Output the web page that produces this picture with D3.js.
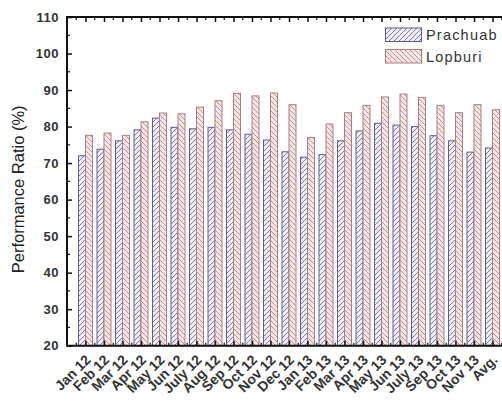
<!DOCTYPE html>
<html>
<head>
<meta charset="utf-8">
<script src="https://cdn.jsdelivr.net/npm/d3@7"></script>
<style>
  html, body { margin: 0; padding: 0; background: #fff; }
  svg { display: block; }
  text { font-family: "Liberation Sans", Arial, sans-serif; }
</style>
</head>
<body>
<svg id="chart" width="502" height="402"></svg>
<script>
const categories = ["Jan 12","Feb 12","Mar 12","Apr 12","May 12","Jun 12","July 12","Aug 12","Sep 12","Oct 12","Nov 12","Dec 12","Jan 13","Feb 13","Mar 13","Apr 13","May 13","Jun 13","July 13","Sep 13","Oct 13","Nov 13","Avg."];
const prachuab = [72.0,73.8,76.1,79.1,82.3,79.8,79.4,79.8,79.1,77.9,76.3,73.1,71.6,72.3,76.1,78.8,80.9,80.4,80.0,77.5,76.1,73.0,74.1];
const lopburi  = [77.6,78.2,77.6,81.3,83.7,83.5,85.3,87.1,89.1,88.4,89.2,86.0,77.0,80.7,83.8,85.8,88.1,88.9,88.0,85.8,83.8,86.0,84.6];
const seriesNames = ["Prachuab","Lopburi"];
const yTicks = [20,30,40,50,60,70,80,90,100,110];

const svg = d3.select("#chart");
const pLeft = 67, pTop = 17, pBottom = 345.7, pRight = 511;

// position scale: axis 0..24, categories at 1..23
const xLin = d3.scaleLinear().domain([0, categories.length + 1]).range([pLeft, pRight]);
const x = d3.scalePoint().domain(categories).range([xLin(1), xLin(categories.length)]);
const step = xLin(1) - xLin(0);
const sub = d3.scaleBand().domain(seriesNames).range([-step*0.378, step*0.378]).padding(0);
const y = d3.scaleLinear().domain([20, 110]).range([pBottom, pTop]);

// patterns
const defs = svg.append("defs");
function hatch(id, bg, stroke, dir) {
  const p = defs.append("pattern").attr("id", id).attr("patternUnits", "userSpaceOnUse")
    .attr("width", 5).attr("height", 5);
  p.append("rect").attr("width", 5).attr("height", 5).attr("fill", bg);
  const d = dir > 0 ? "M-1,1 l2,-2 M0,5 l5,-5 M4,6 l2,-2" : "M-1,4 l2,2 M0,0 l5,5 M4,-1 l2,2";
  p.append("path").attr("d", d).attr("stroke", stroke).attr("stroke-width", 0.75).attr("fill", "none");
}
hatch("hP", "#efeefa", "#55557e", 1);
hatch("hL", "#f9e6e6", "#aa7474", -1);
const fills = {Prachuab: "url(#hP)", Lopburi: "url(#hL)"};
const strokes = {Prachuab: "#5c5c8e", Lopburi: "#b47c7c"};

// bars
const data = [prachuab, lopburi];
seriesNames.forEach((s, si) => {
  svg.append("g").selectAll("rect").data(categories).join("rect")
    .attr("x", d => x(d) + sub(s))
    .attr("y", (d, i) => y(data[si][i]))
    .attr("width", sub.bandwidth())
    .attr("height", (d, i) => y(20) - y(data[si][i]))
    .attr("fill", fills[s])
    .attr("stroke", strokes[s])
    .attr("stroke-width", 1);
});

const axisColor = "#111";
// bottom axis
const gB = svg.append("g").attr("transform", `translate(0,${pBottom})`)
  .call(d3.axisBottom(x).tickSize(-5).tickFormat(""));
gB.select(".domain").remove();
gB.selectAll("line").attr("stroke", axisColor).attr("stroke-width", 1.5);
// top axis
const gT = svg.append("g").attr("transform", `translate(0,${pTop})`)
  .call(d3.axisTop(x).tickSize(-5).tickFormat(""));
gT.select(".domain").remove();
gT.selectAll("line").attr("stroke", axisColor).attr("stroke-width", 1.5);
// minor x ticks
const minorX = d3.range(0.5, categories.length + 1, 1);
svg.append("g").selectAll("line").data(minorX).join("line")
  .attr("x1", d => xLin(d)).attr("x2", d => xLin(d))
  .attr("y1", pBottom).attr("y2", pBottom - 3)
  .attr("stroke", axisColor).attr("stroke-width", 1.2);
svg.append("g").selectAll("line").data(minorX).join("line")
  .attr("x1", d => xLin(d)).attr("x2", d => xLin(d))
  .attr("y1", pTop).attr("y2", pTop + 3)
  .attr("stroke", axisColor).attr("stroke-width", 1.2);

// left axis
const gL = svg.append("g").attr("transform", `translate(${pLeft},0)`)
  .call(d3.axisLeft(y).tickValues(yTicks).tickSize(-5).tickPadding(8).tickFormat(d3.format("d")));
gL.select(".domain").remove();
gL.selectAll("line").attr("stroke", axisColor).attr("stroke-width", 1.5);
gL.selectAll("text").attr("font-size", 13).attr("font-weight", "bold").attr("fill", "#333")
  .attr("font-family", "'Liberation Sans', Arial, sans-serif").attr("letter-spacing", 0.5);
svg.append("g").selectAll("line").data(d3.range(25, 110, 10)).join("line")
  .attr("x1", pLeft).attr("x2", pLeft + 3)
  .attr("y1", d => y(d)).attr("y2", d => y(d))
  .attr("stroke", axisColor).attr("stroke-width", 1.2);

// frame lines
svg.append("line").attr("x1", pLeft).attr("x2", pRight).attr("y1", pTop).attr("y2", pTop)
  .attr("stroke", axisColor).attr("stroke-width", 2);
svg.append("line").attr("x1", pLeft).attr("x2", pRight).attr("y1", pBottom).attr("y2", pBottom)
  .attr("stroke", axisColor).attr("stroke-width", 2);
svg.append("line").attr("x1", pLeft).attr("x2", pLeft).attr("y1", pTop - 1).attr("y2", pBottom + 1)
  .attr("stroke", axisColor).attr("stroke-width", 2);

// x labels
svg.append("g").selectAll("text").data(categories).join("text")
  .attr("transform", d => `translate(${x(d) + 6},${pBottom + 15}) rotate(-45)`)
  .attr("text-anchor", "end")
  .attr("font-size", 14).attr("font-weight", "bold").attr("fill", "#333")
  .text(d => d);

// y title
svg.append("text")
  .attr("transform", `translate(24,${(pTop + pBottom) / 2 + 8}) rotate(-90)`)
  .attr("text-anchor", "middle")
  .attr("font-size", 16.5).attr("fill", "#222")
  .text("Performance Ratio (%)");

// legend
const lg = svg.append("g");
seriesNames.forEach((s, i) => {
  const ly = 28 + i * 21.5;
  lg.append("rect").attr("x", 385.5).attr("y", ly).attr("width", 36).attr("height", 13.5)
    .attr("fill", fills[s]).attr("stroke", strokes[s]).attr("stroke-width", 1);
  lg.append("text").attr("x", 426).attr("y", ly + 12)
    .attr("font-size", 14.5).attr("letter-spacing", 1.2).attr("fill", "#333").text(s);
});
</script>
</body>
</html>
